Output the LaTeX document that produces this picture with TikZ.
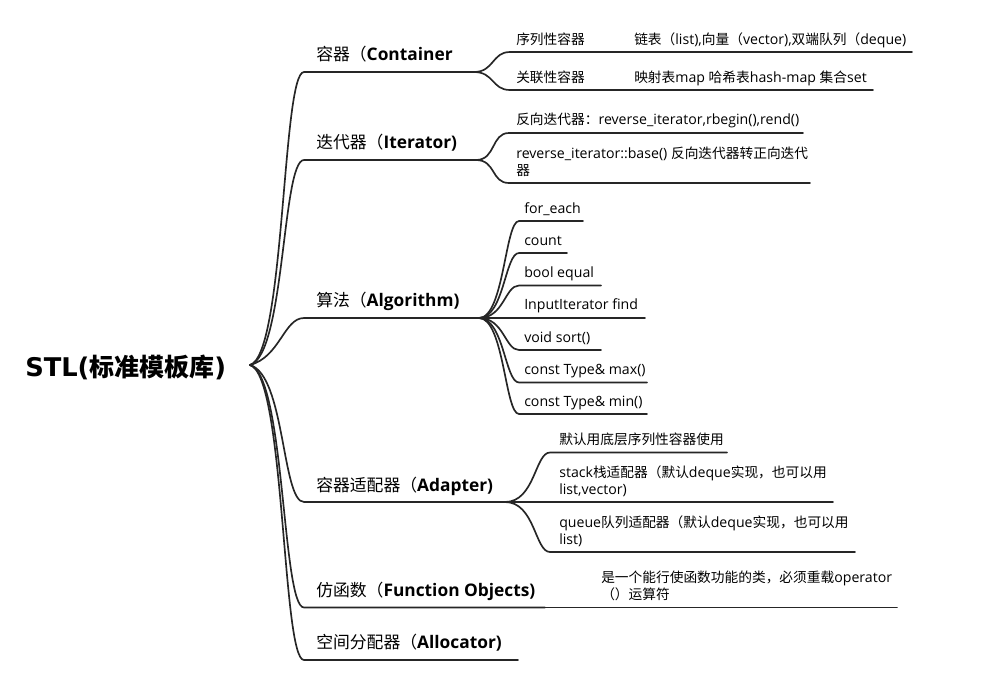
\documentclass[tikz,border=0pt]{standalone}
\usepackage{fontspec}
\setmainfont{Open Sans}
\newfontfamily\cjk[Scale=0.97]{Noto Sans CJK SC}
\newfontfamily\dvs{DejaVu Sans}
\newcommand\zh[1]{{\cjk #1}}
\definecolor{ln}{HTML}{262626}
\tikzset{
  br/.style={draw=ln, line width=1.25pt, line cap=round},
  tone/.style={anchor=base west, inner sep=0pt, font=\fontsize{13}{15}\selectfont},
  ttwo/.style={anchor=base west, inner sep=0pt, font=\fontsize{10.6}{12.4}\selectfont},
}
\begin{document}
\begin{tikzpicture}[x=0.75pt,y=-0.75pt]
\useasboundingbox[fill=white] (0,0) rectangle (990,694);

% root
\node[anchor=base west, inner sep=0pt, font=\fontsize{19.3}{22}\selectfont\bfseries] (root) at (25,376) {{\dvs\bfseries STL(}\zh{标准模板库}{\dvs\bfseries )}};
\coordinate (h0) at (250,365);

% level 1 coordinates
\coordinate (c1s) at (304,72);    \coordinate (c1h) at (474,72);
\coordinate (c2s) at (304,160);   \coordinate (c2h) at (476,160);
\coordinate (c3s) at (304,318);   \coordinate (c3h) at (479,318);
\coordinate (c4s) at (304,502);   \coordinate (c4h) at (505,502);
\coordinate (c5s) at (304,607.5); \coordinate (c5h) at (545,607.5);
\coordinate (c6s) at (304,660);   \coordinate (c6e) at (518,660);

\node[tone] (c1) at (316,60)  {\zh{容器（}\textbf{Container}};
\node[tone] (c2) at (316,148) {\zh{迭代器（}\textbf{Iterator)}};
\node[tone] (c3) at (316,306) {\zh{算法（}\textbf{Algorithm)}};
\node[tone] (c4) at (316,491) {\zh{容器适配器（}\textbf{Adapter)}};
\node[tone] (c5) at (316,596) {\zh{仿函数（}\textbf{Function Objects)}};
\node[tone] (c6) at (316,648) {\zh{空间分配器（}\textbf{Allocator)}};

\draw[br] (h0) .. controls +(35,-10) and +(-22,0) .. (c1s) -- (c1h);
\draw[br] (h0) .. controls +(35,-10) and +(-22,0) .. (c2s) -- (c2h);
\draw[br] (h0) .. controls +(30,-8) and +(-20,0) .. (c3s) -- (c3h);
\draw[br] (h0) .. controls +(35,10) and +(-22,0) .. (c4s) -- (c4h);
\draw[br] (h0) .. controls +(35,10) and +(-22,0) .. (c5s) -- (c5h);
\draw[br] (h0) .. controls +(35,10) and +(-22,0) .. (c6s) -- (c6e);

% Container children
\coordinate (a1s) at (510,52); \coordinate (a1e) at (588,52); \coordinate (a1x) at (630,52); \coordinate (a1f) at (912,52);
\coordinate (a2s) at (510,90); \coordinate (a2e) at (588,90); \coordinate (a2x) at (630,90); \coordinate (a2f) at (873,90);
\node[ttwo] (a1) at (516,44) {\zh{序列性容器}};
\node[ttwo] (a1d) at (634,44) {\zh{链表（}list),\zh{向量（}vector),\zh{双端队列（}deque)};
\node[ttwo] (a2) at (516,82) {\zh{关联性容器}};
\node[ttwo] (a2d) at (634,82) {\zh{映射表}map \zh{哈希表}hash-map \zh{集合}set};
\draw[br] (c1h) .. controls +(20,0) and +(-18,0) .. (a1s) -- (a1e) -- (a1x) -- (a1f);
\draw[br] (c1h) .. controls +(20,0) and +(-18,0) .. (a2s) -- (a2e) -- (a2x) -- (a2f);

% Iterator children
\coordinate (b1s) at (509,133); \coordinate (b1e) at (803,133);
\coordinate (b2s) at (509,183); \coordinate (b2e) at (810,183);
\node[ttwo] (b1) at (516,124) {\zh{反向迭代器：}reverse\_iterator,rbegin(),rend()};
\node[ttwo] (b2) at (516,158.5) {reverse\_iterator::base() \zh{反向迭代器转正向迭代}};
\node[ttwo] (b2b) at (516,175) {\zh{器}};
\draw[br] (c2h) .. controls +(20,0) and +(-18,0) .. (b1s) -- (b1e);
\draw[br] (c2h) .. controls +(20,0) and +(-18,0) .. (b2s) -- (b2e);

% Algorithm children
\foreach \n/\y/\e/\t in {g1/221/583/for\_each, g2/253/567/count, g3/285.5/601/bool equal, g5/350/601/void sort(), g6/382.5/647/const Type\& max(), g7/414/647/const Type\& min()}{
  \coordinate (\n s) at (519,\y); \coordinate (\n e) at (\e,\y);
  \node[ttwo] (\n) at (524,\y-8) {\t};
  \draw[br] (c3h) .. controls +(25,0) and +(-14,0) .. (\n s) -- (\n e);
}
\coordinate (g4e) at (645,318);
\node[ttwo] (g4) at (524,309.5) {InputIterator find};
\draw[br] (c3h) -- (g4e);

% Adapter children
\coordinate (d1s) at (550,452.5); \coordinate (d1e) at (727,452.5);
\coordinate (d2e) at (833,502);
\coordinate (d3s) at (550,552);   \coordinate (d3e) at (855,552);
\node[ttwo] (d1) at (559,444) {\zh{默认用底层序列性容器使用}};
\node[ttwo] (d2) at (559,477) {stack\zh{栈适配器（默认}deque\zh{实现，也可以用}};
\node[ttwo] (d2b) at (559,494) {list,vector)};
\node[ttwo] (d3) at (559,527) {queue\zh{队列适配器（默认}deque\zh{实现，也可以用}};
\node[ttwo] (d3b) at (559,544) {list)};
\draw[br] (c4h) .. controls +(30,0) and +(-15,0) .. (d1s) -- (d1e);
\draw[br] (c4h) -- (d2e);
\draw[br] (c4h) .. controls +(30,0) and +(-15,0) .. (d3s) -- (d3e);

% Function objects child
\coordinate (f1e) at (897,607.5);
\node[ttwo] (f1) at (601,582) {\zh{是一个能行使函数功能的类，必须重载}operator};
\node[ttwo] (f1b) at (601,599) {\zh{（）运算符}};
\draw[br] (c5h) -- (f1e);
\end{tikzpicture}
\end{document}
